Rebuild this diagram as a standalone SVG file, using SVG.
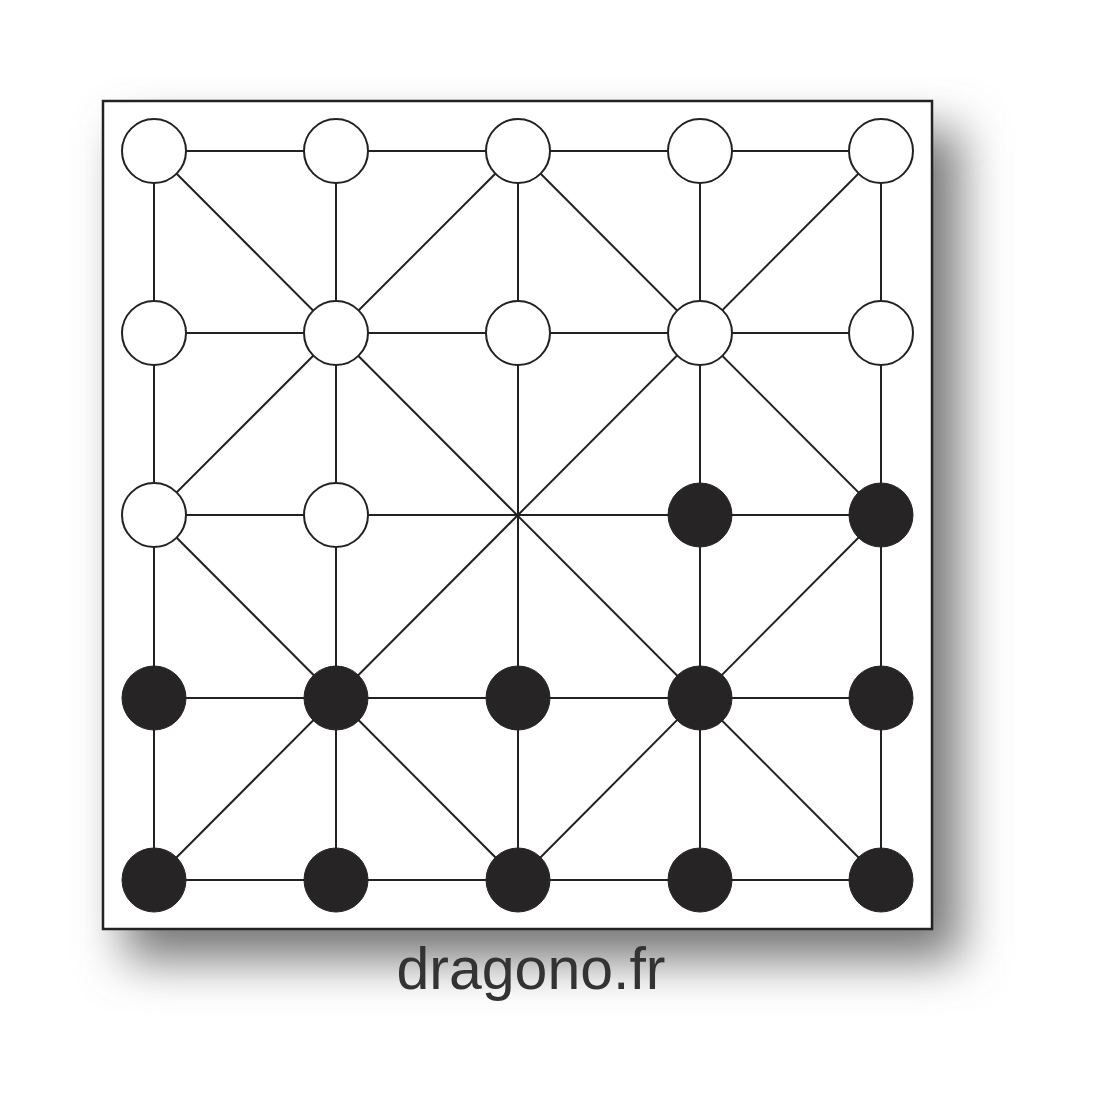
<svg xmlns="http://www.w3.org/2000/svg" width="1100" height="1100" viewBox="0 0 1100 1100">
<defs>
<filter id="sh" x="-20%" y="-20%" width="140%" height="140%">
<feGaussianBlur stdDeviation="24"/>
</filter>
<style>
.ln{stroke:#222;stroke-width:2;fill:none}
.w{fill:#fff;stroke:#222;stroke-width:2}
.b{fill:#262424;stroke:#262424;stroke-width:1}
</style>
</defs>
<rect width="1100" height="1100" fill="#fff"/>
<rect x="125" y="130" width="835" height="830" fill="#777" filter="url(#sh)"/>
<rect id="board" x="103" y="101" width="829" height="828" fill="#fff" stroke="#222" stroke-width="2.5"/>
<g id="connectors" class="ln">
<line x1="154" y1="151" x2="881" y2="151"/>
<line x1="154" y1="333" x2="881" y2="333"/>
<line x1="154" y1="515" x2="881" y2="515"/>
<line x1="154" y1="698" x2="881" y2="698"/>
<line x1="154" y1="880" x2="881" y2="880"/>
<line x1="154" y1="151" x2="154" y2="880"/>
<line x1="336" y1="151" x2="336" y2="880"/>
<line x1="518" y1="151" x2="518" y2="880"/>
<line x1="700" y1="151" x2="700" y2="880"/>
<line x1="881" y1="151" x2="881" y2="880"/>
<line x1="154" y1="151" x2="881" y2="880"/>
<line x1="881" y1="151" x2="154" y2="880"/>
<line x1="518" y1="151" x2="154" y2="515"/>
<line x1="518" y1="151" x2="881" y2="515"/>
<line x1="154" y1="515" x2="518" y2="880"/>
<line x1="881" y1="515" x2="518" y2="880"/>
</g>
<g id="n00"><circle class="w" cx="154" cy="151" r="32"/></g>
<g id="n10"><circle class="w" cx="336" cy="151" r="32"/></g>
<g id="n20"><circle class="w" cx="518" cy="151" r="32"/></g>
<g id="n30"><circle class="w" cx="700" cy="151" r="32"/></g>
<g id="n40"><circle class="w" cx="881" cy="151" r="32"/></g>
<g id="n01"><circle class="w" cx="154" cy="333" r="32"/></g>
<g id="n11"><circle class="w" cx="336" cy="333" r="32"/></g>
<g id="n21"><circle class="w" cx="518" cy="333" r="32"/></g>
<g id="n31"><circle class="w" cx="700" cy="333" r="32"/></g>
<g id="n41"><circle class="w" cx="881" cy="333" r="32"/></g>
<g id="n02"><circle class="w" cx="154" cy="515" r="32"/></g>
<g id="n12"><circle class="w" cx="336" cy="515" r="32"/></g>
<g id="n32"><circle class="b" cx="700" cy="515" r="32"/></g>
<g id="n42"><circle class="b" cx="881" cy="515" r="32"/></g>
<g id="n03"><circle class="b" cx="154" cy="698" r="32"/></g>
<g id="n13"><circle class="b" cx="336" cy="698" r="32"/></g>
<g id="n23"><circle class="b" cx="518" cy="698" r="32"/></g>
<g id="n33"><circle class="b" cx="700" cy="698" r="32"/></g>
<g id="n43"><circle class="b" cx="881" cy="698" r="32"/></g>
<g id="n04"><circle class="b" cx="154" cy="880" r="32"/></g>
<g id="n14"><circle class="b" cx="336" cy="880" r="32"/></g>
<g id="n24"><circle class="b" cx="518" cy="880" r="32"/></g>
<g id="n34"><circle class="b" cx="700" cy="880" r="32"/></g>
<g id="n44"><circle class="b" cx="881" cy="880" r="32"/></g>
<text x="531" y="989" text-anchor="middle" font-family="Liberation Sans, Arial, sans-serif" font-size="59" fill="#333">dragono.fr</text>
</svg>
